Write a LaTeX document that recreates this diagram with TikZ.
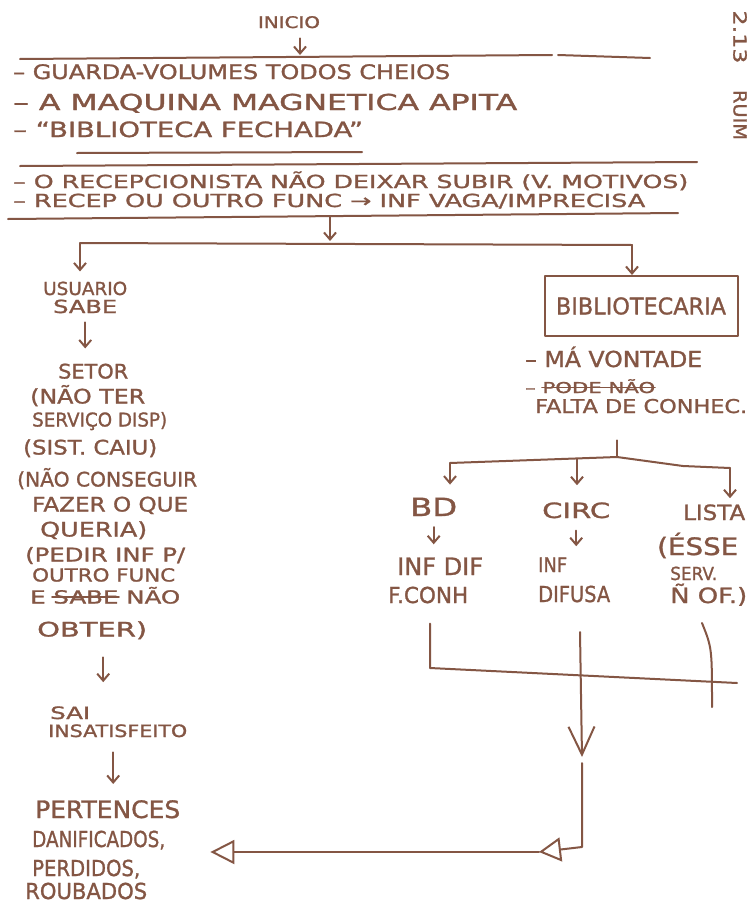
\documentclass[tikz,border=0pt]{standalone}
\usepackage{fontspec}
\usepackage{graphicx}
\setmainfont{DejaVu Sans}[FakeBold=1.2]
\usetikzlibrary{arrows.meta}
\definecolor{inkc}{RGB}{132,86,68}
% stretch a line of text to a given width, keeping its height
\newcommand\wfit[2]{\resizebox{#1}{\height}{#2}}
\newcommand\fsz[1]{\fontsize{#1}{#1}\selectfont}
\tikzset{
  ink/.style={draw=inkc, line width=2pt, line cap=round, line join=round},
  strike/.style={draw=inkc, line width=1.6pt, line cap=round},
  arr/.style={ink, -{Straight Barb[length=7pt,width=12pt]}},
  bigv/.style={ink, -{Straight Barb[length=28pt,width=26pt]}},
  tri/.style={ink, -{Triangle[open,length=24pt,width=24pt]}},
  smtri/.style={ink, -{Triangle[open,length=22pt,width=24pt]}},
  lbl/.style={text=inkc, inner sep=0pt, anchor=base west},
  lblc/.style={text=inkc, inner sep=0pt, anchor=base},
  boxnode/.style={ink, inner sep=0pt, minimum width=193pt, minimum height=60pt, text=inkc},
}
\begin{document}
\begin{tikzpicture}[x=1pt, y=-1pt]
\fill[white] (0,0) rectangle (751,905);
\useasboundingbox (0,0) rectangle (751,905);

% ---- start and the list of triggers
\node[lblc] (inicio) at (289,28) {\fsz{16}\wfit{62pt}{INICIO}};
\coordinate (bar1) at (300,55);
\draw[ink] (20,59) -- (552,55);
\draw[ink] (558,55) -- (650,58);
\draw[arr, shorten <=10pt] (inicio.south -| bar1) -- (bar1);

\node[lbl] (g1) at (13,79)  {\fsz{20}\wfit{437pt}{– GUARDA-VOLUMES TODOS CHEIOS}};
\node[lbl] (g2) at (13,110) {\fsz{22}\wfit{504pt}{– A MAQUINA MAGNETICA APITA}};
\node[lbl] (g3) at (13,137) {\fsz{21}\wfit{350pt}{– “BIBLIOTECA FECHADA”}};
\draw[ink] (77,153) -- (362,152);
\draw[ink] (20,166) -- (697,162);
\node[lbl] (g4) at (13,188) {\fsz{18}\wfit{675pt}{– O RECEPCIONISTA NÃO DEIXAR SUBIR (V. MOTIVOS)}};
\node[lbl] (g5) at (13,207) {\fsz{18}\wfit{632pt}{– RECEP OU OUTRO FUNC → INF VAGA/IMPRECISA}};
\draw[ink] (8,219) -- (678,213);

% ---- fork into the two branches
\coordinate (bar3) at (330,216);
\coordinate (fork) at (330,241);
\coordinate (forkL) at (80,243);
\coordinate (forkR) at (632,245);
\draw[arr] (bar3) -- (fork);
\draw[ink] (forkL) -- (forkR);

% ---- note in the margin
\node[text=inkc, inner sep=0pt, rotate=-90] (ref1) at (740,37) {\fsz{18}\wfit{53pt}{2.13}};
\node[text=inkc, inner sep=0pt, rotate=-90] (ref2) at (740,115) {\fsz{18}\wfit{50pt}{RUIM}};

% ---- left branch: the user
\node[lbl] (usr1) at (43,295) {\fsz{18}\wfit{84pt}{USUARIO}};
\node[lbl] (usr2) at (53,313) {\fsz{18}\wfit{64pt}{SABE}};
\draw[arr, shorten >=10pt] (forkL) -- (forkL |- usr1.north);

\node[lbl] (s1)  at (58,378.5) {\fsz{20}\wfit{70pt}{SETOR}};
\node[lbl] (s2)  at (30,403.5) {\fsz{20}\wfit{115pt}{(NÃO TER}};
\node[lbl] (s3)  at (32,426.5) {\fsz{19}\wfit{135pt}{SERVIÇO DISP)}};
\node[lbl] (s4)  at (23,454.5) {\fsz{20}\wfit{134pt}{(SIST. CAIU)}};
\node[lbl] (s5)  at (17,486.5) {\fsz{20}\wfit{180pt}{(NÃO CONSEGUIR}};
\node[lbl] (s6)  at (32,511.5) {\fsz{20}\wfit{156pt}{FAZER O QUE}};
\node[lbl] (s7)  at (40,536.5) {\fsz{20}\wfit{107pt}{QUERIA)}};
\node[lbl] (s8)  at (25,561.5) {\fsz{19}\wfit{160pt}{(PEDIR INF P/}};
\node[lbl] (s9)  at (32,581.5) {\fsz{18}\wfit{143pt}{OUTRO FUNC}};
\node[lbl] (s10) at (30,603.5) {\fsz{18}\wfit{150pt}{E SABE NÃO}};
\node[lbl] (s11) at (37,636.5) {\fsz{20}\wfit{110pt}{OBTER)}};
% crossed-out word
\draw[strike] ([xshift=22pt, yshift=6.5pt]s10.base west) -- ([xshift=89pt, yshift=6.5pt]s10.base west);
\draw[arr, shorten <=9pt, shorten >=15pt] (usr2.south) -- (usr2.south |- s1.north);

\node[lbl] (sai1) at (50,719) {\fsz{17}\wfit{40pt}{SAI}};
\node[lbl] (sai2) at (48,737) {\fsz{17}\wfit{139pt}{INSATISFEITO}};
\draw[arr, shorten <=18pt, shorten >=24pt] ([xshift=11pt]s11.south) -- ([xshift=11pt]s11.south |- sai1.north);

\node[lbl] (p1) at (35,818) {\fsz{24}\wfit{145pt}{PERTENCES}};
\node[lbl] (p2) at (32,847) {\fsz{22}\wfit{133pt}{DANIFICADOS,}};
\node[lbl] (p3) at (32,876) {\fsz{22}\wfit{108pt}{PERDIDOS,}};
\node[lbl] (p4) at (25,899) {\fsz{22}\wfit{122pt}{ROUBADOS}};
\draw[arr, shorten <=15pt, shorten >=16pt] ([xshift=-4.5pt]sai2.south) -- ([xshift=-4.5pt]sai2.south |- p1.north);

% ---- right branch: the librarian
\node[boxnode] (bib) at (641,306) {\fsz{23}\wfit{170pt}{BIBLIOTECARIA}};
\draw[arr] (forkR) -- (forkR |- bib.north);

\node[lbl] (mv) at (525,367) {\fsz{22}\wfit{177pt}{– MÁ VONTADE}};
\node[lbl] (pn) at (525,393) {\fsz{15}\wfit{130pt}{– PODE NÃO}};
\draw[strike] ([xshift=17pt, yshift=5.5pt]pn.base west) -- ([xshift=130pt, yshift=5.5pt]pn.base west);
\node[lbl] (fc) at (535,413) {\fsz{19}\wfit{212pt}{FALTA DE CONHEC.}};

\coordinate (brL) at (450,463);
\coordinate (brJ) at (617,457);
\coordinate (brM) at (577,459);
\coordinate (brK) at (683,466);
\coordinate (brR) at (730,468);
\draw[ink, shorten <=27pt] (fc.south -| brJ) -- (brJ);
\draw[ink] (brL) -- (brJ) -- (brK) -- (brR);

\node[lbl] (bd)    at (410,516) {\fsz{25}\wfit{47pt}{BD}};
\node[lbl] (circ)  at (542,518) {\fsz{21}\wfit{68pt}{CIRC}};
\node[lbl] (lista) at (683,520) {\fsz{21}\wfit{62pt}{LISTA}};
\draw[arr, shorten >=13pt] (brL) -- (brL |- bd.north);
\draw[arr, shorten >=17pt] (brM) -- (brM |- circ.north);
\draw[arr, shorten >=6pt]  (brR) -- (brR |- lista.north);

\node[lbl] (infdif) at (397,575) {\fsz{24}\wfit{86pt}{INF DIF}};
\node[lbl] (fconh)  at (388,603) {\fsz{22}\wfit{80pt}{F.CONH}};
\node[lbl] (inf)    at (538,572) {\fsz{20}\wfit{29pt}{INF}};
\node[lbl] (difusa) at (538,602) {\fsz{22}\wfit{72pt}{DIFUSA}};
\node[lbl] (esse)   at (657,555) {\fsz{24}\wfit{81pt}{(ÉSSE}};
\node[lbl] (serv)   at (670,580) {\fsz{18}\wfit{47pt}{SERV.}};
\node[lbl] (nof)    at (670,603) {\fsz{21}\wfit{77pt}{Ñ OF.)}};
\draw[arr, shorten <=11pt, shorten >=13pt] (bd.south) -- (bd.south |- infdif.north);
\draw[arr, shorten <=12pt, shorten >=11pt] (circ.south) -- (circ.south |- inf.north);

% ---- the three outcomes merge and lead back to the user
\coordinate (mL) at (430,668);
\coordinate (mR) at (737,683);
\draw[ink, shorten <=20pt] (fconh.south -| mL) -- (mL) -- (mR);

\coordinate (rTop) at (702,623);
\coordinate (rBot) at (712,707);
\draw[ink] (rTop) .. controls (712,648) .. (rBot);

\coordinate (mTop) at (580,632);
\coordinate (mV) at (582,757);
\coordinate (mLow) at (582,763);
\coordinate (cCorner) at (582,847);
\coordinate (tri2) at (539,852);
\draw[bigv] (mTop) -- (mV);
\draw[smtri] (mLow) -- (cCorner) -- (tri2);
\draw[tri, shorten >=45pt] (tri2) -- (p2.east |- tri2);
\end{tikzpicture}
\end{document}
